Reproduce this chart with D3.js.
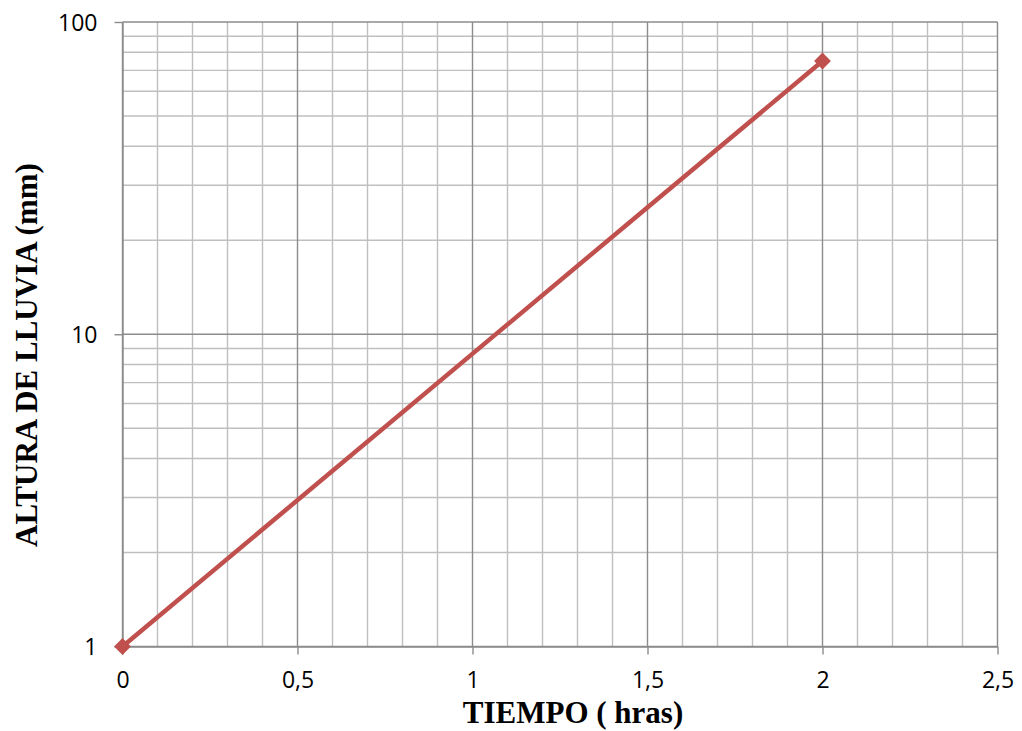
<!DOCTYPE html>
<html><head><meta charset="utf-8">
<script src="https://cdn.jsdelivr.net/npm/d3@7"></script>
<style>body{margin:0;background:#fff}</style>
</head><body>
<svg id="c" width="1022" height="731"></svg>
<script>
const xValues = [0, 2];
const yValues = [1, 75];
const xTicks = [0, 0.5, 1, 1.5, 2, 2.5];
const yTicks = [1, 10, 100];
const xTitle = "TIEMPO ( hras)";
const yTitle = "ALTURA DE LLUVIA (mm)";

const svg = d3.select("#c");
const L = 122.5, R = 997.5, T = 22, B = 646.5;
const x = d3.scaleLinear().domain([0, 2.5]).range([L, R]);
const y = d3.scaleLog().domain([1, 100]).range([B, T]);

const g = svg.append("g");
// minor vertical
const minorX = d3.range(0, 2.51, 0.1).map(v => +v.toFixed(1)).filter(v => Math.abs(v*2 - Math.round(v*2)) > 1e-6);
g.selectAll(".mx").data(minorX).enter().append("line")
  .attr("x1", d => x(d)).attr("x2", d => x(d)).attr("y1", T).attr("y2", B)
  .attr("stroke", "#bfbfbf").attr("stroke-width", 1.4);
// minor horizontal
const minorY = [];
[1, 10].forEach(b => { for (let k = 2; k <= 9; k++) minorY.push(b * k); });
g.selectAll(".my").data(minorY).enter().append("line")
  .attr("x1", L).attr("x2", R).attr("y1", d => y(d)).attr("y2", d => y(d))
  .attr("stroke", "#bfbfbf").attr("stroke-width", 1.4);
// major
g.selectAll(".Mx").data(xTicks).enter().append("line")
  .attr("x1", d => x(d)).attr("x2", d => x(d)).attr("y1", T).attr("y2", B)
  .attr("stroke", "#8c8c8c").attr("stroke-width", 1.4);
g.selectAll(".My").data(yTicks).enter().append("line")
  .attr("x1", L).attr("x2", R).attr("y1", d => y(d)).attr("y2", d => y(d))
  .attr("stroke", "#8c8c8c").attr("stroke-width", 1.4);

// axes
const xAxis = d3.axisBottom(x).tickValues(xTicks).tickSizeOuter(0).tickSizeInner(8).tickPadding(17)
  .tickFormat(d => String(d).replace(".", ","));
const ax = svg.append("g").attr("transform", `translate(0,${B})`).call(xAxis);
const yAxis = d3.axisLeft(y).tickValues(yTicks).tickSizeOuter(0).tickSizeInner(8).tickPadding(17)
  .tickFormat(d3.format("d"));
const ay = svg.append("g").attr("transform", `translate(${L},0)`).call(yAxis);
[ax, ay].forEach(a => {
  a.attr("font-size", null).attr("font-family", null);
  a.select(".domain").attr("stroke", "#8c8c8c").attr("stroke-width", 1.4);
  a.selectAll(".tick line").attr("stroke", "#8c8c8c").attr("stroke-width", 1.4);
  a.selectAll(".tick text").attr("fill", "#000")
    .attr("font-family", "'Open Sans', 'Liberation Sans', sans-serif").attr("font-size", 23);
});
ay.selectAll(".tick text").attr("dy", "0.36em");

// series
const pts = xValues.map((v, i) => [v, yValues[i]]);
svg.append("path").datum(pts)
  .attr("d", d3.line().x(d => x(d[0])).y(d => y(d[1])))
  .attr("fill", "none").attr("stroke", "#c0504d").attr("stroke-width", 4.5);
svg.selectAll(".pt").data(pts).enter().append("path")
  .attr("transform", d => `translate(${x(d[0])},${y(d[1])})`)
  .attr("d", d3.symbol().type(d3.symbolDiamond2).size(180))
  .attr("fill", "#c0504d");

// titles
svg.append("text").attr("x", 573).attr("y", 723)
  .attr("text-anchor", "middle")
  .attr("font-family", "'Liberation Serif', 'Times New Roman', serif").attr("font-weight", "bold").attr("font-size", 31)
  .text(xTitle);
svg.append("text").attr("transform", `translate(37,355) rotate(-90)`)
  .attr("text-anchor", "middle")
  .attr("font-family", "'Liberation Serif', 'Times New Roman', serif").attr("font-weight", "bold").attr("font-size", 31)
  .text(yTitle);
</script>
</body></html>
